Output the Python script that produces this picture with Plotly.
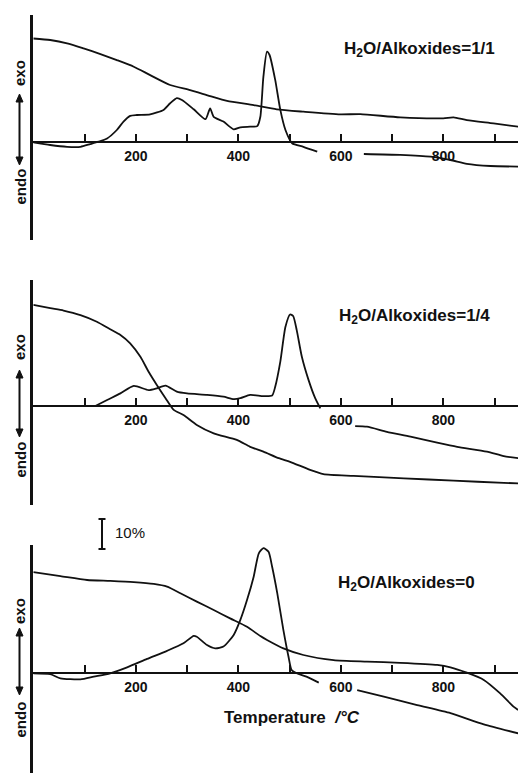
import plotly.graph_objects as go

# ---------------- data (temperature in °C, signals in relative units; 10 units = 10 % mass) ----------------
T1_TG = [0, 33, 66, 98, 131, 163, 196, 228, 267, 306, 345, 378, 430, 475, 527, 599, 638, 716, 800, 820, 846, 898, 946]
TG1 = [34.6, 34.1, 33.0, 31.3, 29.4, 27.4, 25.2, 22.4, 19.1, 17.4, 15.4, 13.8, 12.4, 11.0, 10.2, 9.3, 9.4, 8.3, 8.0, 8.3, 7.4, 6.3, 5.2]
T1_DTA = [0, 33, 66, 92, 111, 127, 144, 163, 176, 189, 202, 228, 254, 267, 280, 290, 313, 336, 345, 352, 371,
          391, 404, 423, 437, 443, 449, 456, 461, 472, 482, 492, 505, 527, 554, None, 645, 716, 775, 814, 846, 892, 946]
DTA1 = [0, -0.9, -1.5, -1.5, -0.6, 0.2, 1.3, 4.1, 6.9, 8.8, 9.1, 9.3, 10.8, 13.0, 14.7, 14.1, 11.0, 7.7, 11.3, 8.5, 6.9,
        4.3, 5.0, 5.2, 5.4, 8.5, 21.9, 30.2, 29.1, 20.8, 10.8, 4.1, -0.3, -1.5, -3.1, None, -3.9, -4.2, -4.8, -5.9, -7.2, -7.9, -8.1]

T2_TG = [0, 33, 59, 92, 124, 150, 170, 189, 209, 225, 241, 258, 274, 293, 319, 352, 397, 423, 449, 479, 501, 540, 566, 625, 723, 820, 918, 946]
TG2 = [33.7, 32.6, 31.8, 30.3, 28.1, 25.6, 23.7, 20.9, 16.4, 11.4, 7.0, 2.6, -1.3, -3.0, -6.3, -9.1, -11.3, -13.6, -15.2, -17.4,
       -18.6, -21.3, -22.7, -23.3, -24.1, -24.9, -25.6, -25.8]
T2_DTA = [121, 144, 170, 196, 225, 241, 258, 280, 300, 339, 371, 391, 404, 423, 449, 466, 472, 482, 492, 501, 507, 514, 524,
          537, 550, 560, None, 628, 651, 690, 736, 788, 827, 885, 918, 946]
DTA2 = [0, 2.0, 4.2, 6.7, 5.3, 5.9, 6.8, 4.8, 4.2, 3.7, 3.1, 2.3, 2.6, 3.7, 3.3, 3.5, 6.4, 14.8, 26.4, 30.5, 30.0, 25.3, 16.4,
        8.7, 2.6, -0.8, None, -6.7, -6.9, -8.6, -10.2, -12.2, -13.6, -15.2, -16.7, -17.4]

T3_TG = [0, 53, 105, 150, 196, 235, 261, 287, 319, 352, 384, 417, 443, 456, 488, 527, 586, 651, 716, 788, 814, 846, 879, 911, 937, 946]
TG3 = [33.7, 32.4, 31.1, 30.8, 30.4, 29.8, 28.9, 26.7, 23.9, 21.1, 18.3, 15.5, 12.4, 11.1, 8.3, 6.1, 4.4, 3.9, 3.5, 2.8, 2.0,
       0.2, -2.2, -6.7, -11.1, -12.2]
T3_DTA = [0, 33, 53, 92, 118, 150, 183, 222, 261, 293, 313, 319, 339, 355, 371, 391, 404, 417, 430, 440, 449, 459, 466, 476,
          488, 498, 504, 514, 533, 557, None, 632, 684, 749, 814, 879, 946]
DTA3 = [0, -0.3, -1.7, -2.0, -1.1, 0, 2.0, 4.8, 7.5, 10.0, 12.5, 12.2, 9.4, 8.3, 8.9, 12.8, 17.8, 24.4, 32.2, 40.0, 41.7, 40.5,
        35.5, 26.7, 14.4, 5.5, 1.1, 0, -1.1, -3.1, None, -5.6, -7.8, -10.6, -13.3, -17.0, -20.0]

SUB2 = '<span style="font-size:12px;baseline-shift:-3px">2</span>'
PANEL_LABELS = ["H" + SUB2 + "O/Alkoxides=1/1", "H" + SUB2 + "O/Alkoxides=1/4", "H" + SUB2 + "O/Alkoxides=0"]
LABEL_TICKS = [200, 400, 600, 800]
MINOR_TICKS = [100, 300, 500, 700, 900]
X_TITLE = "Temperature\u00a0\u00a0<i>/°C</i>"
SCALE_LABEL = "10%"
SCALE_VALUE = 10

# ---------------- layout geometry (pixels) ----------------
W, H = 518, 774
PX_PER_UNIT = 3.0
X0_PX = 33.3            # pixel of 0 °C
PX_PER_DEG = 0.5125
FONT = "Liberation Sans, Arial, Helvetica, sans-serif"
INK = "#111111"

# (top, baseline, bottom) of each panel's vertical axis
PANELS = [(15, 142.3, 240), (280, 406, 505), (545, 673.3, 773)]
LABEL_POS = [(342, 50), (337, 316), (336, 583)]
# exo text center, arrow up tip, arrow down tip, endo text center
ARROWS = [(73.5, 94, 165, 187), (347.5, 370, 437, 460), (611.5, 628, 695, 720)]
ARROW_X = 19.5


def py(p):
    return 1 - p / H


def px(p):
    return p / W


fig = go.Figure()
series = [(T1_TG, TG1, T1_DTA, DTA1), (T2_TG, TG2, T2_DTA, DTA2), (T3_TG, TG3, T3_DTA, DTA3)]
x_max = (W - X0_PX) / PX_PER_DEG

layout = dict(
    width=W, height=H, margin=dict(l=0, r=0, t=0, b=0),
    paper_bgcolor="white", plot_bgcolor="white", showlegend=False,
    font=dict(family=FONT, color=INK),
)
annotations = []
shapes = []


def tri(xc, tip, base_y):
    hw = 3.5
    return (f"M {px(xc)},{py(tip)} L {px(xc - hw)},{py(base_y)} "
            f"L {px(xc + hw)},{py(base_y)} Z")


for i, ((ttg, tg, tdta, dta), (top, base, bot)) in enumerate(zip(series, PANELS)):
    n = "" if i == 0 else str(i + 1)
    xa, ya = "x" + n, "y" + n
    for xs, ys in ((ttg, tg), (tdta, dta)):
        fig.add_trace(go.Scatter(x=xs, y=ys, mode="lines", xaxis=xa, yaxis=ya,
                                 line=dict(color=INK, width=1.8, shape="spline", smoothing=0.6),
                                 connectgaps=False, hoverinfo="skip"))
    layout["xaxis" + n] = dict(
        domain=[px(X0_PX), 1], range=[0, x_max], anchor="free", position=py(base),
        showgrid=False, zeroline=False, showline=True, linecolor=INK, linewidth=2,
        ticks="inside", ticklen=7, tickwidth=2, tickcolor=INK,
        tickmode="array", tickvals=LABEL_TICKS, ticktext=[str(v) for v in LABEL_TICKS],
        minor=dict(tickmode="array", tickvals=MINOR_TICKS, ticks="inside", ticklen=7, tickwidth=2,
                   tickcolor=INK, showgrid=False),
        tickfont=dict(size=14, family=FONT, color=INK, weight="bold"), ticklabelstandoff=1,
    )
    layout["yaxis" + n] = dict(
        domain=[py(bot), py(top)],
        range=[-(bot - base) / PX_PER_UNIT, (base - top) / PX_PER_UNIT],
        anchor=xa, showgrid=False, zeroline=False, showline=True, linecolor=INK, linewidth=2.5,
        ticks="", showticklabels=False,
    )
    lx, ly = LABEL_POS[i]
    annotations.append(dict(xref="paper", yref="paper", x=px(lx), y=py(ly), xanchor="left", yanchor="middle",
                            text="<b>" + PANEL_LABELS[i] + "</b>", showarrow=False,
                            font=dict(size=17, family=FONT, color=INK)))
    exo_c, up_tip, dn_tip, endo_c = ARROWS[i]
    head = 8
    shapes.append(dict(type="line", xref="paper", yref="paper", x0=px(ARROW_X), x1=px(ARROW_X),
                       y0=py(up_tip + head - 1), y1=py(dn_tip - head + 1), line=dict(color=INK, width=2)))
    shapes.append(dict(type="path", xref="paper", yref="paper", path=tri(ARROW_X, up_tip, up_tip + head),
                       fillcolor=INK, line=dict(color=INK, width=1)))
    shapes.append(dict(type="path", xref="paper", yref="paper", path=tri(ARROW_X, dn_tip, dn_tip - head),
                       fillcolor=INK, line=dict(color=INK, width=1)))
    annotations.append(dict(xref="paper", yref="paper", x=px(ARROW_X), y=py(exo_c), text="<b>exo</b>", textangle=-90,
                            showarrow=False, xanchor="center", yanchor="middle",
                            font=dict(size=15, family=FONT, color=INK)))
    annotations.append(dict(xref="paper", yref="paper", x=px(ARROW_X), y=py(endo_c), text="<b>endo</b>", textangle=-90,
                            showarrow=False, xanchor="center", yanchor="middle",
                            font=dict(size=15, family=FONT, color=INK)))

# x axis title under the last panel
annotations.append(dict(xref="paper", yref="paper", x=px(292), y=py(717), text="<b>" + X_TITLE + "</b>",
                        showarrow=False, xanchor="center", yanchor="middle",
                        font=dict(size=17, family=FONT, color=INK)))

# 10 % scale bar
bar_x, bar_bottom = 102, 549
bar_top = bar_bottom - SCALE_VALUE * PX_PER_UNIT
shapes.append(dict(type="line", xref="paper", yref="paper", x0=px(bar_x), x1=px(bar_x),
                   y0=py(bar_bottom), y1=py(bar_top), line=dict(color=INK, width=2)))
for yy in (bar_top, bar_bottom):
    shapes.append(dict(type="line", xref="paper", yref="paper", x0=px(bar_x - 3.5), x1=px(bar_x + 3.5),
                       y0=py(yy), y1=py(yy), line=dict(color=INK, width=2)))
annotations.append(dict(xref="paper", yref="paper", x=px(113), y=py((bar_top + bar_bottom) / 2 - 2),
                        text=SCALE_LABEL, showarrow=False, xanchor="left", yanchor="middle",
                        font=dict(size=15, family=FONT, color=INK)))

layout["annotations"] = annotations
layout["shapes"] = shapes
fig.update_layout(**layout)
fig.write_html("out.html")
